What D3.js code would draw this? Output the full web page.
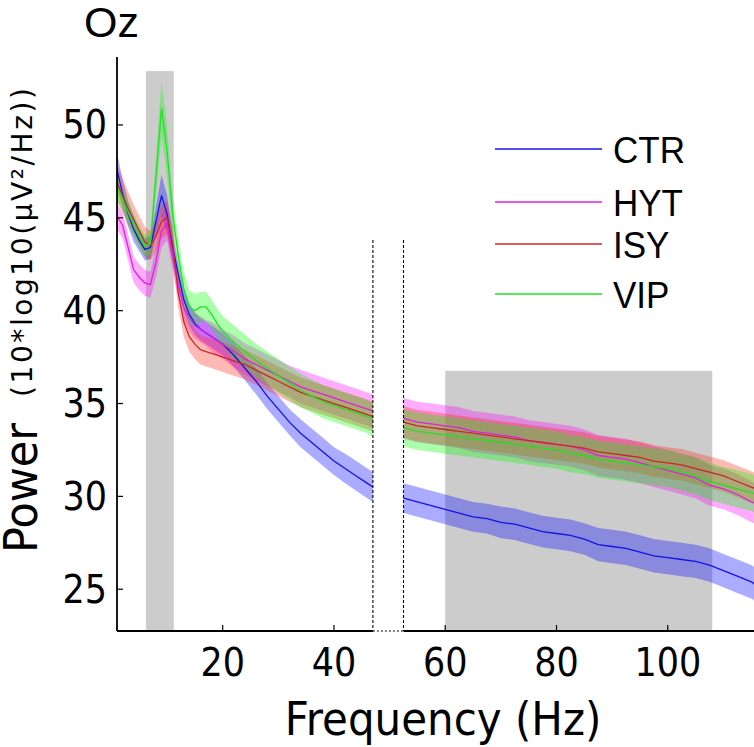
<!DOCTYPE html>
<html>
<head>
<meta charset="utf-8">
<script src="https://cdn.jsdelivr.net/npm/d3@7"></script>
<style>
  html, body { margin: 0; padding: 0; background: #fff; }
  svg { display: block; }
</style>
</head>
<body>
<svg id="chart" width="754" height="747"></svg>
<script>
// ---------------- DATA ----------------
const freqs = [1,2,3,4,5,6,7,8,9,10,11,12,13,14,15,16,17,18,19,20,
  22,24,26,28,30,32,34,36,38,40,42,44,46,47,50,
  52.5,55,57.5,60,62.5,65,67.5,70,72.5,75,77.5,80,82.5,85,87.5,90,92.5,95,97.5,100,102.5,105,107.5,110,112.5,115,116];

const seriesNames = ["CTR", "HYT", "ISY", "VIP"];

const ctrMean = [47.6,46.3,45.2,44.4,43.8,43.3,43.4,44.8,46.2,45.2,43.4,42.0,40.6,39.8,39.3,39.0,38.8,38.6,38.4,38.2,
  37.6,36.9,36.2,35.4,34.7,34.0,33.4,32.9,32.4,31.9,31.5,31.1,30.7,30.5,null,
  29.9,29.7,29.5,29.3,29.1,28.9,28.8,28.6,28.5,28.3,28.1,28.0,27.9,27.7,27.4,27.3,27.2,27.0,26.8,26.7,26.6,26.5,26.3,26.0,25.7,25.4,25.2];
const hytMean = [45.1,44.6,43.4,42.2,41.8,41.5,41.4,42.6,44.3,44.7,43.0,41.4,40.2,39.6,39.2,39.0,38.8,38.6,38.4,38.2,
  37.8,37.4,37.1,36.8,36.5,36.2,35.9,35.7,35.5,35.3,35.1,34.9,34.7,34.6,null,
  34.2,34.0,33.9,33.8,33.7,33.5,33.4,33.3,33.2,33.0,32.9,32.8,32.7,32.5,32.2,32.1,32.0,31.8,31.6,31.4,31.2,31.0,30.6,30.4,30.1,29.7,29.6];
const isyMean = [46.9,46.2,45.5,44.9,44.3,43.7,43.5,44.0,44.8,45.0,43.6,41.0,39.4,38.6,38.2,37.9,37.8,37.7,37.6,37.5,
  37.3,37.1,36.8,36.5,36.2,35.9,35.6,35.4,35.2,35.0,34.8,34.6,34.4,34.3,null,
  34.0,33.8,33.7,33.6,33.5,33.4,33.3,33.2,33.1,33.0,32.9,32.8,32.7,32.6,32.4,32.3,32.2,32.1,31.9,31.8,31.7,31.5,31.3,31.1,30.8,30.5,30.4];
const vipMean = [46.6,46.0,45.3,44.6,44.0,43.5,43.6,47.2,50.9,48.6,45.2,43.0,41.2,40.2,40.0,40.2,40.2,39.8,39.3,38.9,
  38.3,37.8,37.3,36.9,36.5,36.1,35.7,35.4,35.1,34.9,34.7,34.5,34.3,34.1,null,
  33.7,33.5,33.4,33.3,33.2,33.1,33.0,32.9,32.8,32.7,32.6,32.5,32.3,32.2,32.0,31.9,31.8,31.7,31.6,31.5,31.3,31.1,30.8,30.6,30.4,30.2,30.1];

// standard error (half-width of shaded band)
const ctrSE = [0.9,0.8,0.7,0.7,0.6,0.6,0.6,0.8,1.1,1.0,0.8,0.6,0.6,0.6,0.6,0.6,0.6,0.6,0.6,0.6,
  0.65,0.65,0.7,0.7,0.7,0.7,0.75,0.75,0.75,0.75,0.8,0.8,0.8,0.8,null,
  0.8,0.8,0.8,0.8,0.8,0.8,0.8,0.85,0.85,0.85,0.85,0.85,0.85,0.85,0.9,0.9,0.9,0.9,0.9,0.9,0.9,0.9,0.9,0.9,0.9,0.9,0.9];
const hytSE = [0.7,0.7,0.7,0.7,0.7,0.7,0.7,0.8,0.9,0.9,0.8,0.7,0.7,0.7,0.7,0.7,0.7,0.8,0.8,0.8,
  0.85,0.85,0.85,0.85,0.85,0.85,0.9,0.9,0.9,0.9,0.9,0.9,0.9,0.9,null,
  1.1,1.1,1.1,1.1,1.1,1.1,1.1,1.1,1.1,1.1,1.1,1.1,1.1,1.1,1.1,1.1,1.1,1.1,1.1,1.1,1.1,1.1,1.1,1.1,1.1,1.1,1.1];
const isySE = [1.0,0.9,0.9,0.8,0.8,0.8,0.8,0.8,0.9,0.9,0.9,0.8,0.8,0.8,0.8,0.8,0.8,0.8,0.8,0.8,
  0.8,0.8,0.8,0.8,0.8,0.8,0.8,0.8,0.8,0.8,0.8,0.8,0.8,0.8,null,
  0.85,0.85,0.85,0.85,0.85,0.85,0.85,0.85,0.85,0.85,0.85,0.85,0.85,0.85,0.85,0.85,0.85,0.85,0.85,0.85,0.85,0.85,0.85,0.85,0.85,0.85,0.85];
const vipSE = [0.7,0.6,0.6,0.6,0.6,0.6,0.6,1.0,1.5,1.3,1.0,0.9,0.9,0.9,0.9,0.8,0.8,0.8,0.8,0.8,
  0.9,0.9,0.9,0.9,0.9,0.9,0.9,0.9,0.9,0.9,0.9,0.9,0.9,0.9,null,
  1.0,1.0,1.0,1.0,1.0,1.0,1.0,1.0,1.0,1.0,1.0,1.0,1.0,1.0,1.0,1.0,1.0,1.0,1.0,1.0,1.0,1.0,1.0,1.0,1.0,1.0,1.0];

const xTicks = [20, 40, 60, 80, 100];
const yTicks = [25, 30, 35, 40, 45, 50];

// shaded frequency bands [from, to, top value]
const bandAlpha = [6.2, 11.2, 52.9];
const bandGamma = [60, 108, 36.76];
// line-noise notch (excluded range)
const notch = [47, 52.5, 43.8];

// ---------------- STYLE ----------------
const colors = { CTR: "#1414e6", HYT: "#e020e0", ISY: "#c82828", VIP: "#22e022" };
const fills  = { CTR: "#0000ff", HYT: "#ff00ff", ISY: "#ff2a1a", VIP: "#00ff00" };

const series = [
  { name: "CTR", mean: ctrMean, se: ctrSE },
  { name: "HYT", mean: hytMean, se: hytSE },
  { name: "ISY", mean: isyMean, se: isySE },
  { name: "VIP", mean: vipMean, se: vipSE }
];

const pL = 117, pR = 754, pT = 57, pB = 631;
const svg = d3.select("#chart");

const x = d3.scaleLinear().domain([1, 115.5]).range([pL, pR]);
const y = d3.scaleLinear().domain([22.75, 53.66]).range([pB, pT]);

svg.append("defs").append("clipPath").attr("id", "plotclip")
  .append("rect").attr("x", pL).attr("y", pT - 5).attr("width", pR - pL).attr("height", pB - pT + 5);

const plot = svg.append("g").attr("clip-path", "url(#plotclip)");

// gray frequency-band rectangles
[bandAlpha, bandGamma].forEach(b => {
  plot.append("rect")
    .attr("x", x(b[0])).attr("width", x(b[1]) - x(b[0]))
    .attr("y", y(b[2])).attr("height", pB - y(b[2]))
    .attr("fill", "#cccccc");
});

// shaded error bands
series.forEach(s => {
  const pts = freqs.map((f, i) => ({ f, m: s.mean[i], e: s.se[i] }));
  const area = d3.area()
    .defined(d => d.m != null)
    .x(d => x(d.f))
    .y0(d => y(d.m - d.e))
    .y1(d => y(d.m + d.e));
  plot.append("path").datum(pts)
    .attr("d", area)
    .attr("fill", fills[s.name])
    .attr("fill-opacity", 0.33)
    .attr("stroke", "none");
});

// mean lines
series.forEach(s => {
  const pts = freqs.map((f, i) => ({ f, m: s.mean[i] }));
  const line = d3.line()
    .defined(d => d.m != null)
    .x(d => x(d.f))
    .y(d => y(d.m));
  plot.append("path").datum(pts)
    .attr("d", line)
    .attr("fill", "none")
    .attr("stroke", colors[s.name])
    .attr("stroke-width", 1.3);
});

// notch dashed lines
[notch[0], notch[1]].forEach(f => {
  svg.append("line")
    .attr("x1", x(f)).attr("x2", x(f))
    .attr("y1", y(notch[2])).attr("y2", pB)
    .attr("stroke", "#000").attr("stroke-width", 1.1)
    .attr("stroke-dasharray", "3,2");
});

// axes lines
svg.append("line").attr("x1", pL).attr("x2", pL).attr("y1", pT).attr("y2", pB)
  .attr("stroke", "#000").attr("stroke-width", 1.8);
svg.append("line").attr("x1", pL).attr("x2", x(notch[0])).attr("y1", pB).attr("y2", pB)
  .attr("stroke", "#000").attr("stroke-width", 1.8);
svg.append("line").attr("x1", x(notch[1])).attr("x2", pR).attr("y1", pB).attr("y2", pB)
  .attr("stroke", "#000").attr("stroke-width", 1.8);
svg.append("line").attr("x1", x(notch[0])).attr("x2", x(notch[1])).attr("y1", pB).attr("y2", pB)
  .attr("stroke", "#000").attr("stroke-width", 1.1).attr("stroke-dasharray", "2,2");

// text helper: text placed at (tx,ty), optionally rotated, with a slight vertical stretch
function addText(tx, ty, str, size, family, anchor, rot, sy) {
  const t = svg.append("text")
    .attr("transform", `translate(${tx},${ty}) rotate(${rot || 0}) scale(1,${sy || 1})`)
    .attr("text-anchor", anchor || "start")
    .attr("font-family", family)
    .attr("font-size", size)
    .attr("fill", "#000")
    .text(str);
  return t;
}

// ticks
const tickFont = "'DejaVu Sans', sans-serif";
const helv = "'Liberation Sans', Arial, sans-serif";
xTicks.forEach(t => {
  svg.append("line").attr("x1", x(t)).attr("x2", x(t)).attr("y1", pB).attr("y2", pB - 6)
    .attr("stroke", "#000").attr("stroke-width", 1.2);
  addText(x(t), 676, t, 35, tickFont, "middle", 0, 1.12);
});
yTicks.forEach(t => {
  svg.append("line").attr("x1", pL).attr("x2", pL + 6).attr("y1", y(t)).attr("y2", y(t))
    .attr("stroke", "#000").attr("stroke-width", 1.2);
  addText(107, y(t) + 13.5, t, 35, tickFont, "end", 0, 1.1);
});

// axis labels
addText(443, 735, "Frequency (Hz)", 42, tickFont, "middle", 0, 1.08);
addText(37, 553, "Power", 43, tickFont, "start", -90, 1.07);
addText(32, 397, "(10*log10(µV²/Hz))", 28, tickFont, "start", -90, 1.0)
  .attr("textLength", 309).attr("lengthAdjust", "spacing");

// title
addText(84, 37, "Oz", 43, helv, "start", 0, 1.0);

// legend
const legendY = [149, 202, 244, 294];
seriesNames.forEach((n, i) => {
  svg.append("line").attr("x1", 495).attr("x2", 602).attr("y1", legendY[i]).attr("y2", legendY[i])
    .attr("stroke", colors[n]).attr("stroke-width", 1.5);
  addText(613, legendY[i] + 13.5, n, 35, helv, "start", 0, 1.08);
});
</script>
</body>
</html>
